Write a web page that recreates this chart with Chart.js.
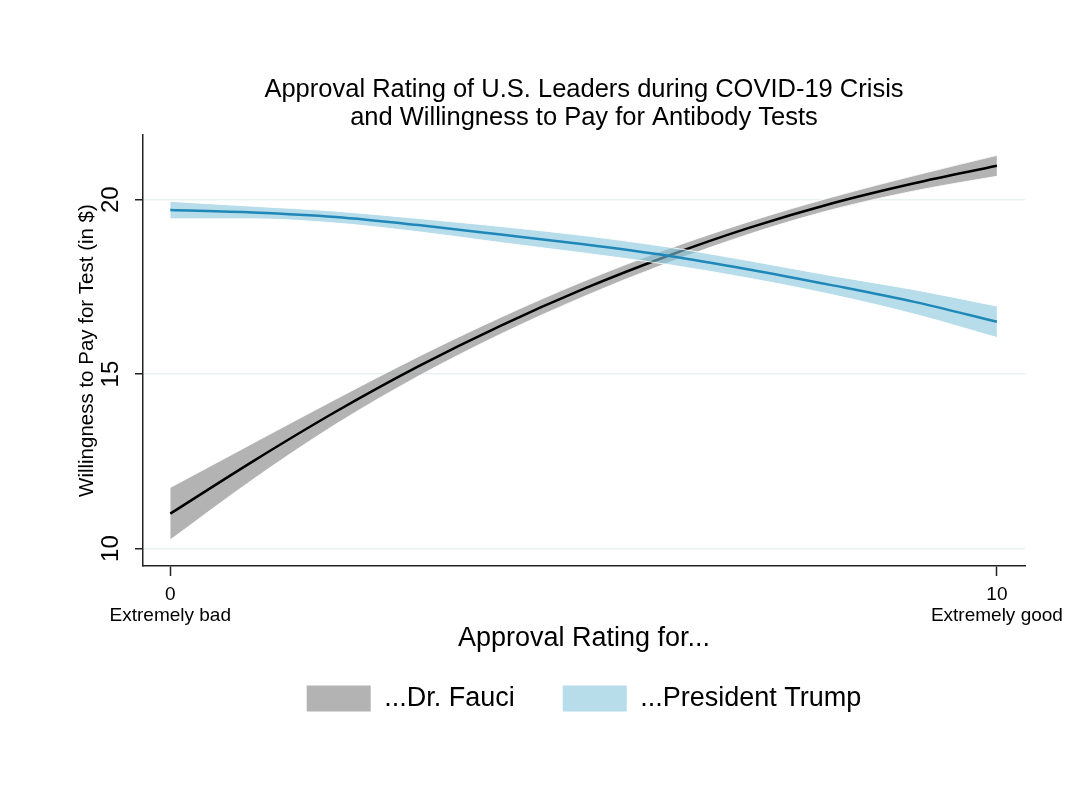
<!DOCTYPE html>
<html>
<head>
<meta charset="utf-8">
<script src="https://cdn.jsdelivr.net/npm/chart.js@4.4.1/dist/chart.umd.min.js"></script>
<style>
  html, body { margin: 0; padding: 0; background: #fff; }
  #wrap { width: 1075px; height: 788px; }
</style>
</head>
<body>
<div id="wrap"><canvas id="c" width="1075" height="788"></canvas></div>
<script>
  // approval rating (0 = extremely bad, 10 = extremely good)
  const ratings = [0, 1, 2, 3, 4, 5, 6, 7, 8, 9, 10];

  // predicted willingness to pay ($) with confidence band
  const fauciFit = [11.0, 12.5, 13.92, 15.22, 16.39, 17.44, 18.37, 19.19, 19.89, 20.47, 20.97];
  const fauciLo  = [10.25, 11.98, 13.56, 14.94, 16.15, 17.22, 18.17, 19.01, 19.71, 20.25, 20.67];
  const fauciHi  = [11.75, 13.02, 14.28, 15.5, 16.63, 17.66, 18.57, 19.37, 20.07, 20.69, 21.27];

  const trumpFit = [19.7, 19.63, 19.5, 19.27, 19.0, 18.72, 18.4, 18.0, 17.55, 17.07, 16.5];
  const trumpLo  = [19.45, 19.45, 19.33, 19.08, 18.77, 18.47, 18.15, 17.75, 17.28, 16.72, 16.05];
  const trumpHi  = [19.95, 19.81, 19.67, 19.46, 19.23, 18.97, 18.65, 18.25, 17.82, 17.42, 16.95];

  const yTicks = [10, 15, 20];
  const xTicks = [0, 10];
  const xTickNames = { 0: 'Extremely bad', 10: 'Extremely good' };
  const seriesNames = ['...Dr. Fauci', '...President Trump'];

  const FONT = "'Liberation Sans', Arial, Helvetica, sans-serif";
  const GRAY_BAND = 'rgba(128,128,128,0.6)';
  const BLUE_BAND = 'rgba(135,197,220,0.6)';
  const BLUE_LINE = '#1f88b8';

  const pts = (arr) => arr.map((v, i) => ({ x: ratings[i], y: v }));

  const bandEdge = (data, order, fill, bg) => ({
    data: pts(data),
    borderColor: 'rgba(255,255,255,0.85)',
    borderWidth: 1,
    backgroundColor: bg,
    fill,
    pointRadius: 0,
    cubicInterpolationMode: 'monotone',
    order,
  });

  new Chart(document.getElementById('c'), {
    type: 'line',
    data: {
      datasets: [
        bandEdge(fauciHi, 4, false, GRAY_BAND),
        bandEdge(fauciLo, 4, '-1', GRAY_BAND),
        { data: pts(fauciFit), borderColor: '#000', borderWidth: 2.5, pointRadius: 0,
          fill: false, cubicInterpolationMode: 'monotone', order: 3 },
        bandEdge(trumpHi, 2, false, BLUE_BAND),
        bandEdge(trumpLo, 2, '-1', BLUE_BAND),
        { data: pts(trumpFit), borderColor: BLUE_LINE, borderWidth: 2.5, pointRadius: 0,
          fill: false, cubicInterpolationMode: 'monotone', order: 1 },
      ],
    },
    options: {
      responsive: false,
      animation: false,
      layout: { padding: { left: 70, right: 50, top: 64, bottom: 66 } },
      plugins: {
        tooltip: { enabled: false },
        title: {
          display: true,
          fullSize: false,
          text: ['Approval Rating of U.S. Leaders during COVID-19 Crisis', 'and Willingness to Pay for Antibody Tests'],
          color: '#000',
          font: { family: FONT, size: 25.5, weight: 'normal', lineHeight: 1.1 },
          padding: { top: 12, bottom: 3 },
        },
        legend: {
          display: true,
          position: 'bottom',
          fullSize: false,
          labels: {
            color: '#000',
            font: { family: FONT, size: 27 },
            boxWidth: 64,
            boxHeight: 26,
            padding: 48,
            generateLabels: () => [
              { text: seriesNames[0], fillStyle: GRAY_BAND, strokeStyle: 'rgba(255,255,255,0)', lineWidth: 0 },
              { text: seriesNames[1], fillStyle: BLUE_BAND, strokeStyle: 'rgba(255,255,255,0)', lineWidth: 0 },
            ],
          },
        },
      },
      scales: {
        x: {
          type: 'linear',
          min: -0.33,
          max: 10.34,
          afterBuildTicks: (s) => { s.ticks = xTicks.map((v) => ({ value: v })); },
          afterFit: (s) => { s.height = 71; },
          ticks: {
            color: '#000',
            font: { family: FONT, size: 19, lineHeight: 1.1 },
            padding: 8,
            maxRotation: 0,
            autoSkip: false,
            callback: (v) => [String(v), xTickNames[v]],
          },
          grid: { drawOnChartArea: false, tickLength: 10, tickColor: '#222', tickWidth: 1.5 },
          border: { color: '#222', width: 1.5 },
          title: {
            display: true,
            text: 'Approval Rating for...',
            color: '#000',
            font: { family: FONT, size: 27 },
            padding: { top: 0, bottom: -18 },
          },
        },
        y: {
          type: 'linear',
          min: 9.5,
          max: 21.85,
          afterBuildTicks: (s) => { s.ticks = yTicks.map((v) => ({ value: v })); },
          afterFit: (s) => { s.width = 73; },
          ticks: {
            color: '#000',
            font: { family: FONT, size: 24 },
            minRotation: 90,
            maxRotation: 90,
            crossAlign: 'center',
            padding: 10,
            autoSkip: false,
          },
          grid: { color: '#e9f1f3', lineWidth: 1.5, tickLength: 8, tickColor: '#222', tickWidth: 1.5 },
          border: { color: '#222', width: 1.5 },
          title: {
            display: true,
            text: 'Willingness to Pay for Test (in $)',
            color: '#000',
            font: { family: FONT, size: 20.5 },
            padding: { top: 5, bottom: 0 },
          },
        },
      },
    },
  });
</script>
</body>
</html>
